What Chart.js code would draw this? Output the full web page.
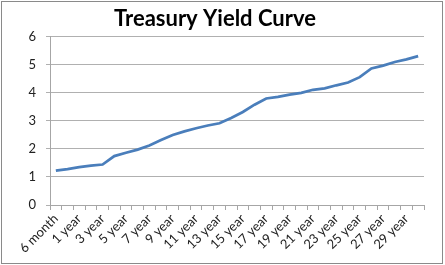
<!DOCTYPE html>
<html>
<head>
<meta charset="utf-8">
<script src="https://cdn.jsdelivr.net/npm/chart.js@4"></script>
<style>
  html, body { margin: 0; padding: 0; background: #fff; }
  #wrap { width: 445px; height: 265px; position: relative; }
</style>
</head>
<body>
<div id="wrap"><canvas id="chartYield"></canvas></div>
<script>
// Treasury yield curve
const maturities = ['6 month', '9 month', '1 year', '2 year', '3 year', '4 year', '5 year', '6 year', '7 year', '8 year',
  '9 year', '10 year', '11 year', '12 year', '13 year', '14 year', '15 year', '16 year', '17 year', '18 year',
  '19 year', '20 year', '21 year', '22 year', '23 year', '24 year', '25 year', '26 year', '27 year', '28 year',
  '29 year', '30 year'];
const yields = [1.22, 1.28, 1.35, 1.40, 1.44, 1.74, 1.86, 1.97, 2.12, 2.31,
  2.49, 2.62, 2.73, 2.83, 2.91, 3.10, 3.31, 3.57, 3.79, 3.85,
  3.93, 3.99, 4.10, 4.15, 4.26, 4.36, 4.55, 4.86, 4.96, 5.09,
  5.18, 5.30];
const yTicks = [0, 1, 2, 3, 4, 5, 6];

const frame = {
  id: 'frame',
  beforeDraw(chart) {
    const c = chart.ctx;
    c.save();
    c.fillStyle = '#fff';
    c.fillRect(0, 0, chart.width, chart.height);
    c.restore();
  },
  afterDraw(chart) {
    const c = chart.ctx;
    c.save();
    c.strokeStyle = '#8a8a8a';
    c.lineWidth = 1;
    c.strokeRect(1.5, 1.5, chart.width - 4, chart.height - 3);
    c.restore();
  }
};

new Chart(document.getElementById('chartYield').getContext('2d'), {
  type: 'line',
  data: {
    labels: maturities,
    datasets: [{ data: yields, borderColor: '#4a7ebb', borderWidth: 2.75, pointRadius: 0, tension: 0, fill: false }]
  },
  options: {
    responsive: true,
    maintainAspectRatio: false,
    animation: false,
    layout: { padding: { left: 6, right: 21, top: 2, bottom: 4 } },
    plugins: {
      legend: { display: false },
      tooltip: { enabled: false },
      title: {
        display: true,
        text: 'Treasury Yield Curve',
        color: '#000',
        font: { family: 'Lato', size: 22, weight: 'bold' },
        padding: { top: 4, bottom: 4 }
      }
    },
    scales: {
      x: {
        offset: true,
        grid: { offset: true, drawOnChartArea: false, tickLength: 5, color: '#a6a6a6' },
        border: { color: '#a6a6a6' },
        afterFit: s => { s.height = 56; },
        ticks: {
          autoSkip: false,
          minRotation: 45,
          maxRotation: 45,
          color: '#222',
          font: { family: 'Lato', size: 13 },
          padding: 1,
          callback: (v, i) => (i % 2 === 0 ? maturities[i] : '')
        }
      },
      y: {
        min: yTicks[0],
        max: yTicks[yTicks.length - 1],
        afterBuildTicks: s => { s.ticks = yTicks.map(v => ({ value: v })); },
        afterFit: s => { s.width = 44; },
        grid: { color: '#b0b0b0', tickLength: 4 },
        border: { color: '#a6a6a6' },
        ticks: { color: '#222', font: { family: 'Lato', size: 13 }, padding: 10 }
      }
    }
  },
  plugins: [frame]
});
</script>
</body>
</html>
